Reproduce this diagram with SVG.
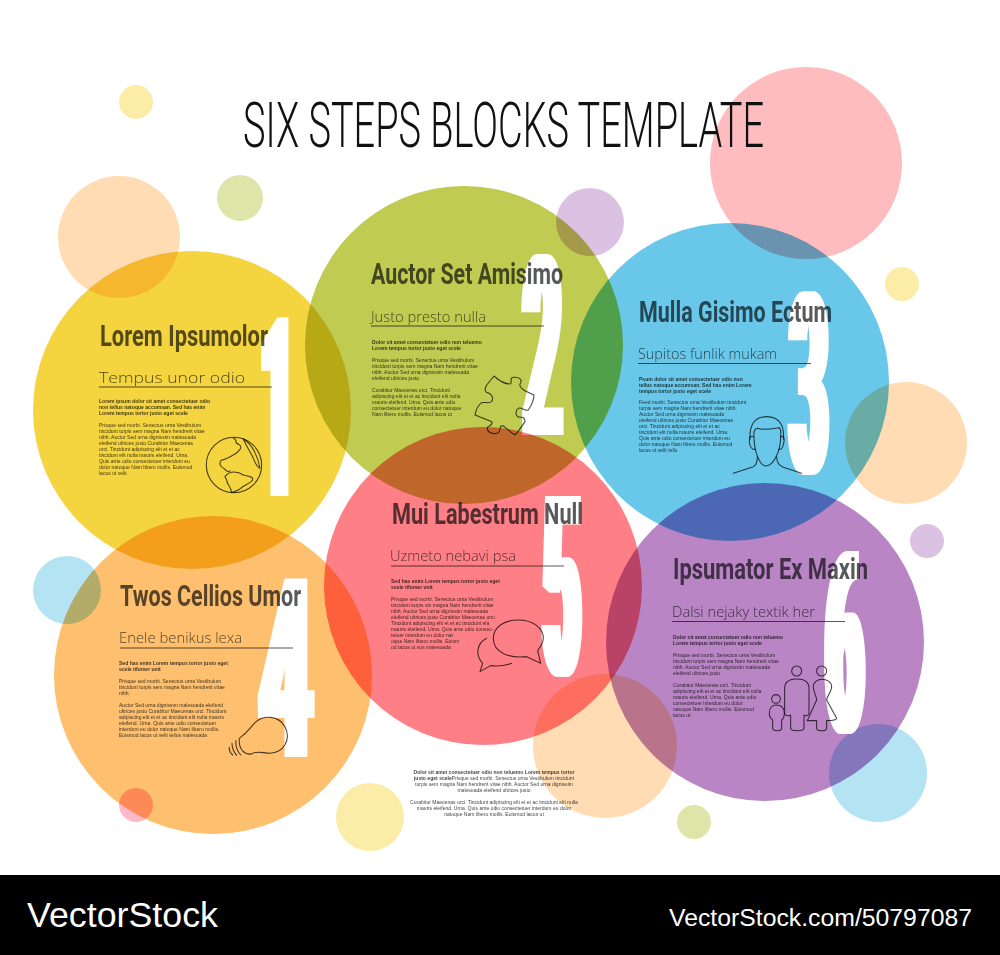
<svg xmlns="http://www.w3.org/2000/svg" width="1000" height="955" viewBox="0 0 1000 955">
<style>
.c{mix-blend-mode:multiply}
.d{font-family:"Liberation Sans Narrow","Roboto","Liberation Sans",sans-serif;font-weight:700;font-size:251px;fill:#fff;filter:url(#fat)}
.h{font-family:"Liberation Sans Narrow","Roboto","Liberation Sans",sans-serif;font-weight:700;font-size:29px;fill:#58595b;mix-blend-mode:multiply}
.s{font-family:"Open Sans","Lato",sans-serif;font-weight:300;font-size:15px;fill:#58595b;mix-blend-mode:multiply}
.u{stroke:#58595b;stroke-width:1.2;mix-blend-mode:multiply;fill:none}
.b{font-family:"Liberation Sans",Arial,sans-serif;font-size:5.05px;fill:#474747;mix-blend-mode:multiply}
.bb{font-weight:700}
.i{fill:none;stroke:#474747;stroke-width:3.2;stroke-linejoin:round;stroke-linecap:round;mix-blend-mode:multiply}
</style>
<defs><filter id="fat" x="-30%" y="-5%" width="160%" height="110%"><feMorphology operator="dilate" radius="5 0"/></filter></defs>
<rect width="1000" height="955" fill="#fff"/>
<g id="decor">
<circle class="c" cx="806" cy="163" r="96" fill="#ffbcbe"/>
<circle class="c" cx="119" cy="237" r="61" fill="#ffdcb4"/>
<circle class="c" cx="136" cy="102" r="17" fill="#fbeda8"/>
<circle class="c" cx="240" cy="198" r="23" fill="#dfe5a9"/>
<circle class="c" cx="590" cy="222" r="34" fill="#dcc2e2"/>
<circle class="c" cx="902" cy="284" r="17" fill="#fbeda8"/>
<circle class="c" cx="906" cy="443" r="61" fill="#ffdcb4"/>
<circle class="c" cx="927" cy="541" r="17" fill="#dcc2e2"/>
<circle class="c" cx="67" cy="590" r="34" fill="#b4e3f4"/>
<circle class="c" cx="136" cy="805" r="17" fill="#feb8c8"/>
<circle class="c" cx="370" cy="817" r="34" fill="#fbeda8"/>
<circle class="c" cx="605" cy="746" r="72" fill="#ffdcb4"/>
<circle class="c" cx="878" cy="773" r="49" fill="#b4e3f4"/>
<circle class="c" cx="694" cy="822" r="17" fill="#dfe5a9"/>
</g>
<text id="title" transform="translate(243,147) scale(.65,1)" x="0" y="0" textLength="801.5" lengthAdjust="spacingAndGlyphs" font-family="Roboto,'Open Sans',sans-serif" font-weight="300" font-size="63" fill="#111">SIX STEPS BLOCKS TEMPLATE</text>

<g id="node-1">
<circle class="c" cx="192" cy="410" r="159" fill="#f4d43f"/>
<text class="d" x="261.6" y="496" textLength="32" lengthAdjust="spacingAndGlyphs">1</text>
<text class="h" x="100" y="345.5" textLength="168" lengthAdjust="spacingAndGlyphs">Lorem Ipsumolor</text>
<text class="s" x="99" y="383" textLength="146" lengthAdjust="spacingAndGlyphs">Tempus unor odio</text>
<line class="u" x1="99" y1="387" x2="272" y2="387"/>
<text class="b bb"><tspan x="99" y="403">Lorem ipsum dolor sit amet consectetuer odio</tspan><tspan x="99" y="409">non tellus natoque accumsan. Sed has enim</tspan><tspan x="99" y="415">Lorem tempus tortor justo eget scele</tspan></text>
<text class="b"><tspan x="99" y="427">Prisque sed morbi. Senectus urna Vestibulum</tspan><tspan x="99" y="433">tincidunt turpis sem magna Nam hendrerit vitae</tspan><tspan x="99" y="439">nibh. Auctor Sed urna dignissim malesuada</tspan><tspan x="99" y="445">eleifend ultrices justo Curabitur Maecenas</tspan><tspan x="99" y="451">orci. Tincidunt adipiscing elit et et ac</tspan><tspan x="99" y="457">tincidunt elit nulla mauris eleifend. Urna.</tspan><tspan x="99" y="463">Quis ante odio consectetuer interdum eu</tspan><tspan x="99" y="469">dolor natoque Nam libero mollis. Euismod</tspan><tspan x="99" y="475">lacus ut velit</tspan></text>
<g transform="translate(30,300) scale(.3333)">
<circle class="i" cx="612" cy="495" r="83"/>
<path class="i" d="M610,415C625,418 612,432 625,432C640,440 630,452 615,462C600,470 590,478 575,480C565,490 570,500 585,508C590,515 598,518 600,512"/>
<path class="i" d="M585,530C600,510 625,515 640,525C660,530 670,530 668,540C660,552 640,555 632,565C625,572 610,575 605,578C605,560 590,555 590,540Z"/>
<path class="i" d="M640,417C665,430 685,470 690,505C680,500 675,490 668,470C660,455 650,440 640,417Z"/>
</g>
</g>

<g id="node-2">
<circle class="c" cx="464" cy="345" r="159" fill="#c0cb52"/>
<text class="d" x="524" y="435" textLength="37" lengthAdjust="spacingAndGlyphs">2</text>
<text class="h" x="371" y="283.5" textLength="192" lengthAdjust="spacingAndGlyphs">Auctor Set Amisimo</text>
<text class="s" x="371" y="322" textLength="115" lengthAdjust="spacingAndGlyphs">Justo presto nulla</text>
<line class="u" x1="371" y1="326" x2="544" y2="326"/>
<text class="b bb"><tspan x="372" y="344">Dolor sit amet consectetuer odio non teluemo</tspan><tspan x="372" y="350">Lorem tempus tortor justo eget scele</tspan></text>
<text class="b"><tspan x="372" y="362">Prisque sed morbi. Senectus urna Vestibulum</tspan><tspan x="372" y="368">tincidunt turpis sem magna Nam hendrerit vitae</tspan><tspan x="372" y="374">nibh. Auctor Sed urna dignissim malesuada</tspan><tspan x="372" y="380">eleifend ultrices justo</tspan><tspan x="372" y="392">Curabitur Maecenas orci. Tincidunt</tspan><tspan x="372" y="398">adipiscing elit et et ac tincidunt elit nulla</tspan><tspan x="372" y="404">mauris eleifend. Urna. Quis ante odio</tspan><tspan x="372" y="410">consectetuer interdum eu dolor natoque</tspan><tspan x="372" y="416">Nam libero mollis. Euismod lacus ut</tspan></text>
<g transform="translate(350,240) scale(.3333)">
<path class="i" d="M432,408C445,420 465,432 480,432C490,430 475,415 490,412C505,410 520,418 510,432C505,445 530,455 552,465C552,480 545,495 535,510C525,515 515,500 505,505C495,512 495,530 510,532C520,530 525,535 525,545C515,560 505,575 495,585C485,580 470,565 460,558C445,555 455,570 445,578C430,585 410,578 412,562C420,555 430,555 425,545C410,540 390,530 375,525C378,510 385,495 395,488C405,485 415,492 425,485C432,475 425,460 412,458C402,455 405,445 410,435Z"/>
</g>
</g>

<g id="node-3">
<circle class="c" cx="730" cy="382" r="159" fill="#69c8ea"/>
<text class="d" x="790.5" y="473" textLength="37" lengthAdjust="spacingAndGlyphs">3</text>
<text class="h" x="639" y="321.5" textLength="193" lengthAdjust="spacingAndGlyphs">Mulla Gisimo Ectum</text>
<text class="s" x="638" y="359" textLength="139" lengthAdjust="spacingAndGlyphs">Supitos funlik mukam</text>
<line class="u" x1="638" y1="363.5" x2="811" y2="363.5"/>
<text class="b bb"><tspan x="639" y="381">Psum dolor sit amet consectetuer odio non</tspan><tspan x="639" y="387">tellus natoque accumsan. Sed has enim Lorem</tspan><tspan x="639" y="393">tempus tortor justo eget scele</tspan></text>
<text class="b"><tspan x="639" y="404">Feed morbi. Senectus urna Vestibulum tincidunt</tspan><tspan x="639" y="410">turpis sem magna Nam hendrerit vitae nibh.</tspan><tspan x="639" y="416">Auctor Sed urna dignissim malesuada</tspan><tspan x="639" y="422">eleifend ultrices justo Curabitur Maecenas</tspan><tspan x="639" y="428">orci. Tincidunt adipiscing elit et et ac</tspan><tspan x="639" y="434">tincidunt elit nulla mauris eleifend. Urna.</tspan><tspan x="639" y="440">Quis ante odio consectetuer interdum eu</tspan><tspan x="639" y="446">dolor natoque Nam libero mollis. Euismod</tspan><tspan x="639" y="452">lacus ut velit tellu</tspan></text>
<g transform="translate(620,280) scale(.3333)">
<path class="i" d="M402,470C400,455 402,448 412,445C430,452 465,445 478,443C485,450 482,465 482,470C482,510 462,558 438,558C418,558 402,510 402,470Z"/>
<path class="i" d="M390,478C388,440 400,410 440,410C480,410 494,440 490,478"/>
<path class="i" d="M400,470C388,465 386,480 390,495C392,505 400,510 406,508M482,470C494,465 494,480 490,495C488,505 482,510 476,508"/>
<path class="i" d="M340,580L400,560C410,555 412,545 412,530M470,530C470,550 478,555 490,562L545,580"/>
</g>
</g>

<g id="node-4">
<circle class="c" cx="213" cy="675" r="159" fill="#fec06e"/>
<text class="d" x="260" y="757" textLength="52" lengthAdjust="spacingAndGlyphs">4</text>
<text class="h" x="120" y="605.5" textLength="181" lengthAdjust="spacingAndGlyphs">Twos Cellios Umor</text>
<text class="s" x="119" y="643" textLength="123" lengthAdjust="spacingAndGlyphs">Enele benikus lexa</text>
<line class="u" x1="120" y1="648" x2="293" y2="648"/>
<text class="b bb"><tspan x="119" y="665">Sed has enim Lorem tempus tortor justo eget</tspan><tspan x="119" y="671">scele tifumer unit</tspan></text>
<text class="b"><tspan x="119" y="683">Prisque sed morbi. Senectus urna Vestibulum</tspan><tspan x="119" y="689">tincidunt turpis sem magna Nam hendrerit vitae</tspan><tspan x="119" y="695">nibh.</tspan><tspan x="119" y="707">Auctor Sed urna dignissim malesuada eleifend</tspan><tspan x="119" y="713">ultrices justo Curabitur Maecenas orci. Tincidunt</tspan><tspan x="119" y="719">adipiscing elit et et ac tincidunt elit nulla mauris</tspan><tspan x="119" y="725">eleifend. Urna. Quis ante odio consectetuer</tspan><tspan x="119" y="731">interdum eu dolor natoque Nam libero mollis.</tspan><tspan x="119" y="737">Euismod lacus ut velit tellus malesuada</tspan></text>
<g transform="translate(100,570) scale(.3333)">
<path class="i" d="M418,505C440,490 445,480 465,458C490,435 535,435 555,470C575,510 550,548 510,550C490,550 470,540 455,552C435,555 415,540 418,505Z"/>
<path class="i" d="M408,512Q405,535 422,555M396,520Q396,540 410,556M388,532Q386,545 398,555"/>
</g>
</g>

<g id="node-5">
<circle class="c" cx="483" cy="586" r="159" fill="#fe8086"/>
<text class="d" x="543" y="675" textLength="37" lengthAdjust="spacingAndGlyphs">5</text>
<text class="h" x="392" y="523.5" textLength="191" lengthAdjust="spacingAndGlyphs">Mui Labestrum Null</text>
<text class="s" x="390" y="561" textLength="126" lengthAdjust="spacingAndGlyphs">Uzmeto nebavi psa</text>
<line class="u" x1="391" y1="566" x2="564" y2="566"/>
<text class="b bb"><tspan x="391" y="583">Sed has enim Lorem tempus tortor justo eget</tspan><tspan x="391" y="589">scele tifumer unit</tspan></text>
<text class="b"><tspan x="391" y="601">Prisque sed morbi. Senectus urna Vestibulum</tspan><tspan x="391" y="607">tincidunt turpis sin magna Nam hendrerit vitae</tspan><tspan x="391" y="613">nibh. Auctor Sed urna dignissim malesuada</tspan><tspan x="391" y="619">eleifend ultrices justo Curabitur Maecenas orci.</tspan><tspan x="391" y="625">Tincidunt adipiscing elit et et ac tincidunt ela</tspan><tspan x="391" y="631">mauris eleifend. Urna. Quis ante odio consec-</tspan><tspan x="391" y="637">tetuer interdum eu dolor nat</tspan><tspan x="391" y="643">oque Nam libero mollis. Euism</tspan><tspan x="391" y="649">od lacus ut vus malesuada</tspan></text>
<g transform="translate(370,490) scale(.3333)">
<path class="i" d="M445,390C490,390 520,415 520,445C520,460 512,470 503,482L512,520L470,500C420,505 370,490 370,445C370,410 405,390 445,390Z"/>
<path class="i" d="M350,445C320,460 315,495 338,520L330,545L362,527C385,530 405,527 425,520"/>
</g>
</g>

<g id="node-6">
<circle class="c" cx="765" cy="642" r="159" fill="#b985c4"/>
<text class="d" x="826" y="732" textLength="37" lengthAdjust="spacingAndGlyphs">6</text>
<text class="h" x="673" y="578.5" textLength="195" lengthAdjust="spacingAndGlyphs">Ipsumator Ex Maxin</text>
<text class="s" x="672" y="617" textLength="143" lengthAdjust="spacingAndGlyphs">Dalsi nejaky textik her</text>
<line class="u" x1="672" y1="621.5" x2="845" y2="621.5"/>
<text class="b bb"><tspan x="673" y="639">Dolor sit amet consectetuer odio non teluemo</tspan><tspan x="673" y="645">Lorem tempus tortor justo eget scele</tspan></text>
<text class="b"><tspan x="673" y="657">Prisque sed morbi. Senectus urna Vestibulum</tspan><tspan x="673" y="663">tincidunt turpis sem magna Nam hendrerit vitae</tspan><tspan x="673" y="669">nibh. Auctor Sed urna dignissim malesuada</tspan><tspan x="673" y="675">eleifend ultrices justo</tspan><tspan x="673" y="687">Curabitur Maecenas orci. Tincidunt</tspan><tspan x="673" y="693">adipiscing elit et et ac tincidunt elit nulla</tspan><tspan x="673" y="699">mauris eleifend. Urna. Quis ante odio</tspan><tspan x="673" y="705">consectetuer interdum eu dolor</tspan><tspan x="673" y="711">natoque Nam libero mollis. Euismod</tspan><tspan x="673" y="717">lacus ut</tspan></text>
<g transform="translate(650,550) scale(.3333)">
<circle class="i" cx="440" cy="363" r="15"/>
<path class="i" d="M404,415C404,395 420,387 440,387C460,387 477,395 477,415L477,490C477,495 467,500 462,495L462,535C462,545 422,545 422,535L422,495C415,500 404,495 404,490Z"/>
<circle class="i" cx="515" cy="363" r="15"/>
<path class="i" d="M490,410C490,395 505,388 515,388C530,388 545,395 545,410C545,425 530,440 530,450L560,505C560,512 530,512 530,512L530,535C528,545 500,545 500,535L500,512L472,512L500,450C500,440 490,425 490,410Z"/>
<circle class="i" cx="378" cy="447" r="13"/>
<path class="i" d="M358,490C358,470 370,465 378,465C390,465 403,470 403,490C403,505 395,510 395,510L395,535C395,545 368,545 368,535L368,510C360,505 358,500 358,490Z"/>
</g>
</g>

<g id="footnote" text-anchor="middle">
<text class="b"><tspan class="bb" x="494" y="774">Dolor sit amet consectetuer odio non teluemo Lorem tempus tortor</tspan><tspan class="bb" x="494" y="780">justo eget scele</tspan><tspan>Prisque sed morbi. Senectus urna Vestibulum tincidunt</tspan><tspan x="494" y="786">turpis sem magna Nam hendrerit vitae nibh. Auctor Sed urna dignissim</tspan><tspan x="494" y="792">malesuada eleifend ultrices justo</tspan><tspan x="494" y="804">Curabitur Maecenas orci. Tincidunt adipiscing elit et et ac tincidunt elit nulla</tspan><tspan x="494" y="810">mauris eleifend. Urna. Quis ante odio consectetuer interdum eu dolor</tspan><tspan x="494" y="816">natoque Nam libero mollis. Euismod lacus ut</tspan></text>
</g>

<g id="banner">
<rect x="0" y="875" width="1000" height="80" fill="#000"/>
<text x="27" y="927" textLength="191" lengthAdjust="spacingAndGlyphs" font-family="'Liberation Sans',Arial,sans-serif" font-size="35" fill="#fff">VectorStock</text>
<text x="669" y="926" textLength="303" lengthAdjust="spacingAndGlyphs" font-family="'Liberation Sans',Arial,sans-serif" font-size="23" fill="#fff">VectorStock.com/50797087</text>
</g>
</svg>
